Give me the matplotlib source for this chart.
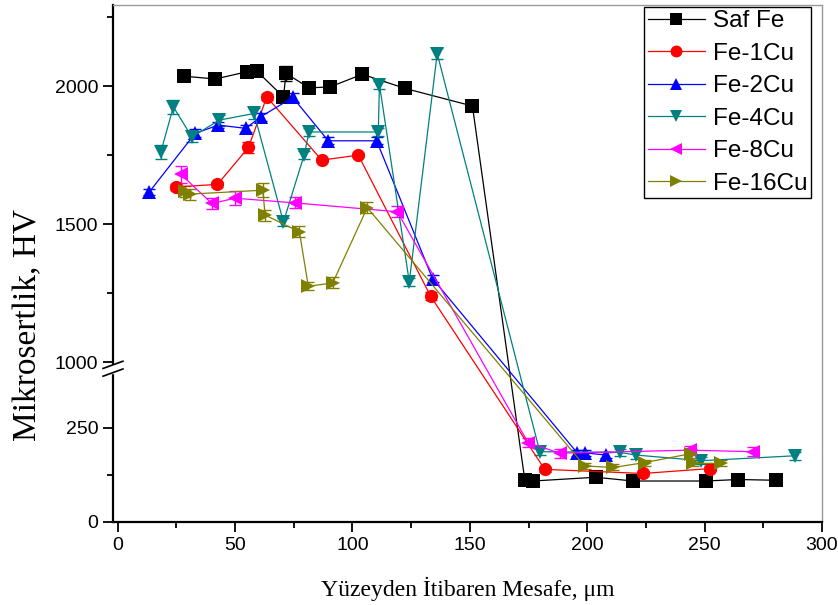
import numpy as np
import matplotlib
matplotlib.use("Agg")
import matplotlib.pyplot as plt

# Saf Fe
saf_x = [28.3, 41.6, 55.0, 59.2, 70.6, 71.7, 81.5, 90.4, 104.2, 122.3, 151.1,
         173.4, 176.9, 203.6, 219.5, 250.4, 264.2, 280.2]
saf_y = [2036, 2026, 2052, 2055, 1961, 2046, 1994, 1997, 2043, 1992, 1928,
         112, 109, 119, 109, 109, 113, 111]
saf_err = [8, 8, 10, 10, 8, 27, 8, 8, 10, 8, 8, 5, 5, 5, 5, 5, 5, 5]

# Fe-1Cu
cu1_x = [24.9, 42.5, 55.7, 63.5, 86.9, 102.5, 133.3, 181.9, 223.7, 252.1]
cu1_y = [1635, 1644, 1778, 1961, 1732, 1750, 1239, 140, 129, 142]
cu1_err = [10, 10, 20, 10, 8, 8, 15, 6, 6, 6]

# Fe-2Cu
cu2_x = [13.5, 33.0, 42.9, 54.6, 60.9, 74.6, 89.7, 110.3, 134.1, 195.7, 198.9, 207.9]
cu2_y = [1617, 1829, 1859, 1847, 1889, 1959, 1802, 1802, 1303, 184, 184, 178]
cu2_err = [12, 15, 12, 12, 15, 15, 12, 12, 12, 8, 8, 8]

# Fe-4Cu
cu4_x = [18.4, 23.7, 31.6, 43.3, 58.1, 70.6, 79.4, 81.5, 111.0, 111.5, 124.2, 136.1,
         179.8, 213.8, 220.9, 248.6, 288.3]
cu4_y = [1762, 1925, 1816, 1877, 1901, 1508, 1750, 1834, 1834, 2005, 1291, 2118,
         187, 185, 178, 163, 176]
cu4_err = [25, 25, 20, 20, 20, 15, 15, 15, 15, 15, 15, 20, 10, 10, 10, 10, 10]

# Fe-8Cu
cu8_x = [27.0, 40.1, 50.0, 75.5, 119.1, 174.8, 188.3, 243.6, 270.6]
cu8_y = [1680, 1575, 1594, 1577, 1545, 211, 183, 191, 187]
cu8_err = [30, 20, 25, 20, 20, 12, 12, 12, 12]

# Fe-16Cu
cu16_x = [28.5, 30.9, 61.8, 62.8, 77.4, 81.2, 91.6, 106.3, 198.9, 211.0, 224.5,
          244.3, 245.0, 257.1]
cu16_y = [1620, 1609, 1623, 1533, 1472, 1275, 1287, 1560, 149, 145, 158, 182, 156, 156]
cu16_err = [20, 20, 25, 20, 20, 15, 20, 20, 8, 8, 8, 12, 8, 8]

series = [
    ("Saf Fe", saf_x, saf_y, saf_err, "black", "s"),
    ("Fe-1Cu", cu1_x, cu1_y, cu1_err, "#ff0000", "o"),
    ("Fe-2Cu", cu2_x, cu2_y, cu2_err, "#0000ff", "^"),
    ("Fe-4Cu", cu4_x, cu4_y, cu4_err, "#008080", "v"),
    ("Fe-8Cu", cu8_x, cu8_y, cu8_err, "#ff00ff", "<"),
    ("Fe-16Cu", cu16_x, cu16_y, cu16_err, "#808000", ">"),
]


# broken y axis: 0..420 normal, 1000..2300 compressed
def fwd(y):
    y = np.asarray(y, dtype=float)
    return np.where(y <= 420, y,
                    np.where(y < 1000, 420 + (y - 420) * 5 / 580,
                             425 + (y - 1000) * 0.734))


def inv(f):
    f = np.asarray(f, dtype=float)
    return np.where(f <= 420, f,
                    np.where(f < 425, 420 + (f - 420) * 580 / 5,
                             1000 + (f - 425) / 0.734))


plt.rcParams['font.family'] = ['Liberation Sans', 'DejaVu Sans']

fig = plt.figure(figsize=(8.38, 6.05), dpi=100)
ax = fig.add_axes([113 / 838, 83 / 605, 709 / 838, 517 / 605])
ax.set_yscale('function', functions=(fwd, inv))

for name, xs, ys, err, col, mk in series:
    ax.errorbar(xs, ys, yerr=err, fmt='none', ecolor=col, elinewidth=1,
                capsize=4, capthick=1, zorder=2)
    ax.plot(xs, ys, color=col, lw=0.9, marker=mk, markersize=9.5,
            markeredgewidth=0, label=name, zorder=3)

ax.set_xlim(-2, 300)
ax.set_ylim(0, 2294)

ax.set_xticks([0, 50, 100, 150, 200, 250, 300])
ax.set_xticks([25, 75, 125, 175, 225, 275], minor=True)
ax.set_yticks([0, 250, 1000, 1500, 2000])
ax.set_yticks([125, 1250, 1750, 2250], minor=True)
ax.set_yticklabels(['0', '250', '1000', '1500', '2000'])
ax.tick_params(which='major', direction='out', length=7, width=1.3, labelsize=14)
ax.tick_params(which='minor', direction='out', length=4.5, width=1.3)
ax.tick_params(top=False, right=False)

for s in ['left', 'bottom']:
    ax.spines[s].set_linewidth(1.6)
    ax.spines[s].set_color('black')
for s in ['top', 'right']:
    ax.spines[s].set_linewidth(1)
    ax.spines[s].set_color('#999999')

# break marks on the left axis
ax.add_patch(plt.Rectangle((-0.004, 0.289), 0.008, 0.015, transform=ax.transAxes,
                           color='white', clip_on=False, zorder=5))
for yc in [0.289, 0.304]:
    ax.plot([-0.014, 0.014], [yc - 0.007, yc + 0.007], transform=ax.transAxes,
            color='black', lw=1.2, clip_on=False, zorder=6)

ax.set_xlabel('Yüzeyden İtibaren Mesafe, μm', family='Liberation Serif',
              fontsize=17, labelpad=17)
ax.set_ylabel('Mikrosertlik, HV', family='Liberation Serif', fontsize=24)
ax.yaxis.set_label_coords(-0.099, 0.381)

leg = ax.legend(loc='upper right', bbox_to_anchor=(0.985, 0.997), borderaxespad=0,
                fontsize=17.5, fancybox=False, framealpha=1, edgecolor='black',
                handlelength=2.35, labelspacing=0.43, borderpad=0.15,
                handletextpad=0.35, markerscale=0.9)
leg.get_frame().set_linewidth(1)

fig.savefig('out.png', dpi=100)
